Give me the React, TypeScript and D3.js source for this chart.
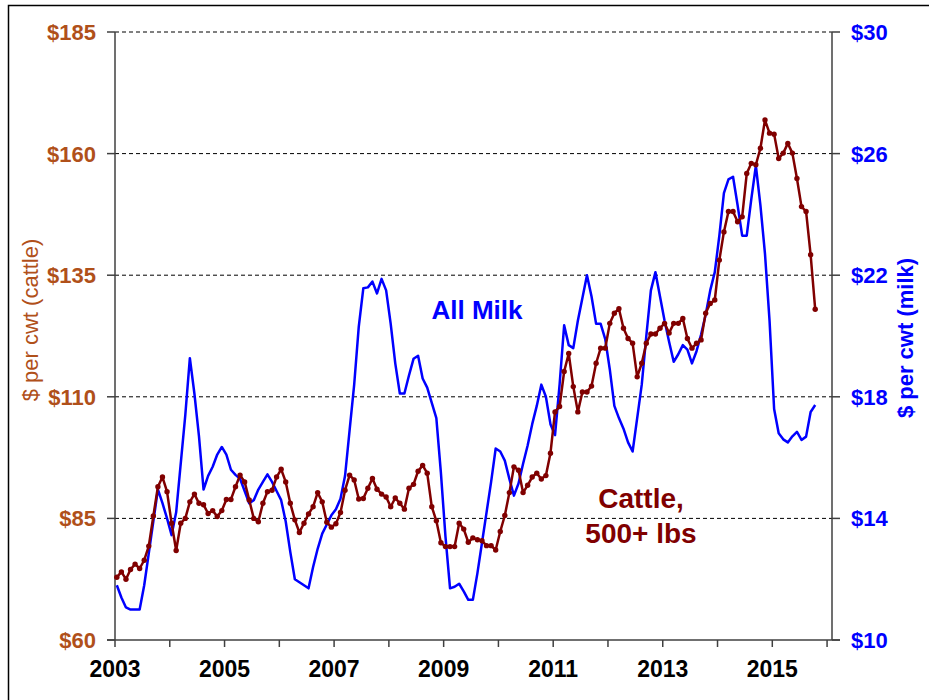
import * as d3 from "d3";

// monthly prices, Jan 2003 .. Oct 2015
const cattle = [
  72.9, 74.0, 72.5, 74.5, 75.6, 74.7, 76.4, 79.3, 85.5, 91.5, 93.5, 90.5,
  84.0, 78.4, 84.0, 85.0, 88.4, 90.0, 88.1, 87.8, 86.0, 86.6, 85.4, 86.6,
  88.9, 88.9, 91.5, 93.9, 92.5, 88.8, 85.0, 84.3, 88.1, 90.5, 90.8, 93.5,
  95.1, 92.5, 88.1, 84.7, 82.1, 84.0, 85.9, 87.4, 90.3, 88.4, 84.2, 83.2,
  83.9, 86.2, 90.8, 93.9, 92.9, 89.0, 89.1, 91.2, 93.2, 91.0, 90.0, 89.4,
  87.4, 89.2, 88.1, 86.9, 91.2, 92.0, 94.7, 95.9, 94.3, 87.4, 84.5, 80.0,
  79.2, 79.2, 79.2, 84.0, 82.8, 80.1, 81.0, 80.6, 80.4, 79.4, 79.4, 78.5,
  82.3, 85.6, 90.3, 95.6, 94.9, 90.3, 91.8, 93.5, 94.3, 93.1, 93.8, 98.4,
  106.9, 108.0, 115.2, 118.9, 112.1, 106.9, 111.0, 111.0, 112.2, 116.9, 120.0, 120.0,
  125.1, 127.2, 128.1, 124.1, 122.0, 121.0, 114.1, 116.9, 121.0, 122.9, 122.9, 124.1,
  125.1, 123.1, 125.1, 125.1, 126.1, 122.0, 120.0, 121.0, 121.7, 127.2, 129.2, 129.9,
  138.1, 143.9, 148.1, 148.1, 146.0, 147.0, 155.9, 158.0, 157.7, 161.1, 166.9, 164.2,
  164.0, 159.0, 160.1, 162.1, 160.1, 154.9, 149.1, 148.1, 139.2, 128.0,
];

const milk = [
  11.8, 11.4, 11.07, 11.0, 11.0, 11.0, 11.8, 12.85, 13.9, 14.95, 14.5, 14.0,
  13.45, 14.2, 15.8, 17.4, 19.27, 18.1, 16.7, 14.95, 15.4, 15.7, 16.1, 16.35,
  16.1, 15.6, 15.43, 15.3, 14.9, 14.5, 14.6, 14.95, 15.2, 15.45, 15.2, 14.9,
  14.6, 13.9, 12.9, 12.0, 11.9, 11.8, 11.7, 12.4, 13.0, 13.5, 13.8, 14.1,
  14.3, 14.65, 15.4, 16.9, 18.4, 20.3, 21.57, 21.6, 21.79, 21.4, 21.88, 21.5,
  20.4, 19.1, 18.11, 18.11, 18.7, 19.25, 19.35, 18.6, 18.3, 17.8, 17.3, 15.5,
  13.4, 11.7, 11.75, 11.85, 11.6, 11.32, 11.32, 12.2, 13.2, 14.2, 15.2, 16.3,
  16.2, 15.9, 15.3, 14.75, 15.15, 15.8, 16.4, 17.1, 17.7, 18.4, 18.0, 17.1,
  16.74, 18.4, 20.35, 19.7, 19.6, 20.5, 21.25, 22.0, 21.3, 20.4, 20.4, 19.9,
  18.9, 17.7, 17.3, 16.95, 16.5, 16.2, 17.3, 18.4, 20.0, 21.5, 22.1, 21.3,
  20.5, 19.8, 19.15, 19.4, 19.7, 19.55, 19.1, 19.5, 20.05, 20.7, 21.5, 22.1,
  23.3, 24.7, 25.15, 25.24, 24.3, 23.3, 23.3, 24.5, 25.6, 24.3, 22.7, 20.5,
  17.6, 16.8, 16.6, 16.5, 16.7, 16.85, 16.58, 16.69, 17.5, 17.73,
];

const yearTicks = d3.range(2003, 2017);
const yearLabels = [2003, 2005, 2007, 2009, 2011, 2013, 2015];
const cattleTicks = [60, 85, 110, 135, 160, 185];
const milkTicks = [10, 14, 18, 22, 26, 30];

const W = 929;
const H = 700;
const PLOT = { left: 115, right: 832, top: 32, bottom: 640 };
const FONT = "'Liberation Sans', Arial, Helvetica, sans-serif";

const CATTLE_COLOR = "#800000";
const MILK_COLOR = "#0000FF";
const LEFT_LABEL = "#B0501A";
const AXIS = "#404040";

const monthX = (i: number) => 2003 + (i + 0.4) / 12;

export default function App() {
  const x = d3.scaleLinear().domain([2003, 2016.09]).range([PLOT.left, PLOT.right]);
  const yL = d3.scaleLinear().domain([60, 185]).range([PLOT.bottom, PLOT.top]);
  const yR = d3.scaleLinear().domain([10, 30]).range([PLOT.bottom, PLOT.top]);

  const cattleLine = d3
    .line<number>()
    .x((_, i) => x(monthX(i)))
    .y((d) => yL(d));
  const milkLine = d3
    .line<number>()
    .x((_, i) => x(monthX(i)))
    .y((d) => yR(d));

  return (
    <svg
      width={W}
      height={H}
      style={{ position: "absolute", left: 0, top: 0, background: "#fff" }}
      fontFamily={FONT}
    >
      <rect x={8.5} y={5.5} width={940} height={720} fill="#fff" stroke="#000" strokeWidth={1.5} />

      {/* gridlines */}
      {cattleTicks
        .filter((t) => t !== 60)
        .map((t) => (
          <line
            key={`g${t}`}
            x1={PLOT.left}
            x2={PLOT.right}
            y1={yL(t)}
            y2={yL(t)}
            stroke="#000"
            strokeWidth={1}
            strokeDasharray="4,3"
          />
        ))}

      {/* axes */}
      <line x1={PLOT.left} x2={PLOT.left} y1={PLOT.top} y2={PLOT.bottom} stroke={AXIS} strokeWidth={1.5} />
      <line x1={PLOT.right} x2={PLOT.right} y1={PLOT.top} y2={PLOT.bottom} stroke={AXIS} strokeWidth={1.5} />
      <line x1={PLOT.left - 8} x2={PLOT.right + 8} y1={PLOT.bottom} y2={PLOT.bottom} stroke={AXIS} strokeWidth={1.5} />

      {cattleTicks.map((t) => (
        <g key={`l${t}`}>
          <line x1={PLOT.left - 8} x2={PLOT.left} y1={yL(t)} y2={yL(t)} stroke={AXIS} strokeWidth={1.5} />
          <text
            x={96}
            y={yL(t)}
            dy="0.36em"
            textAnchor="end"
            fontSize={22}
            fontWeight="bold"
            fill={LEFT_LABEL}
          >
            ${t}
          </text>
        </g>
      ))}

      {milkTicks.map((t) => (
        <g key={`r${t}`}>
          <line x1={PLOT.right} x2={PLOT.right + 8} y1={yR(t)} y2={yR(t)} stroke={AXIS} strokeWidth={1.5} />
          <text
            x={851}
            y={yR(t)}
            dy="0.36em"
            textAnchor="start"
            fontSize={22}
            fontWeight="bold"
            fill={MILK_COLOR}
          >
            ${t}
          </text>
        </g>
      ))}

      {yearTicks.map((yr) => (
        <line
          key={`t${yr}`}
          x1={x(yr)}
          x2={x(yr)}
          y1={PLOT.bottom}
          y2={PLOT.bottom + 7}
          stroke={AXIS}
          strokeWidth={1.5}
        />
      ))}
      {yearLabels.map((yr) => (
        <text key={`y${yr}`} x={x(yr)} y={677} textAnchor="middle" fontSize={23} fontWeight="bold" fill="#000">
          {yr}
        </text>
      ))}

      {/* axis titles */}
      <text
        transform="translate(38,320) rotate(-90)"
        textAnchor="middle"
        fontSize={22}
        fill={LEFT_LABEL}
      >
        $ per cwt (cattle)
      </text>
      <text
        transform="translate(913,338) rotate(-90)"
        textAnchor="middle"
        fontSize={22}
        fontWeight="bold"
        fill={MILK_COLOR}
      >
        $ per cwt (milk)
      </text>

      {/* series */}
      <path d={milkLine(milk) ?? ""} fill="none" stroke={MILK_COLOR} strokeWidth={2.5} strokeLinejoin="round" />
      <path d={cattleLine(cattle) ?? ""} fill="none" stroke={CATTLE_COLOR} strokeWidth={2.5} strokeLinejoin="round" />
      {cattle.map((d, i) => (
        <circle key={`c${i}`} cx={x(monthX(i))} cy={yL(d)} r={2.7} fill={CATTLE_COLOR} />
      ))}

      {/* labels */}
      <text x={477} y={319} textAnchor="middle" fontSize={26} fontWeight="bold" fill={MILK_COLOR}>
        All Milk
      </text>
      <text x={641} y={508} textAnchor="middle" fontSize={28} fontWeight="bold" fill={CATTLE_COLOR}>
        Cattle,
      </text>
      <text x={641} y={543} textAnchor="middle" fontSize={28} fontWeight="bold" fill={CATTLE_COLOR}>
        500+ lbs
      </text>
    </svg>
  );
}
